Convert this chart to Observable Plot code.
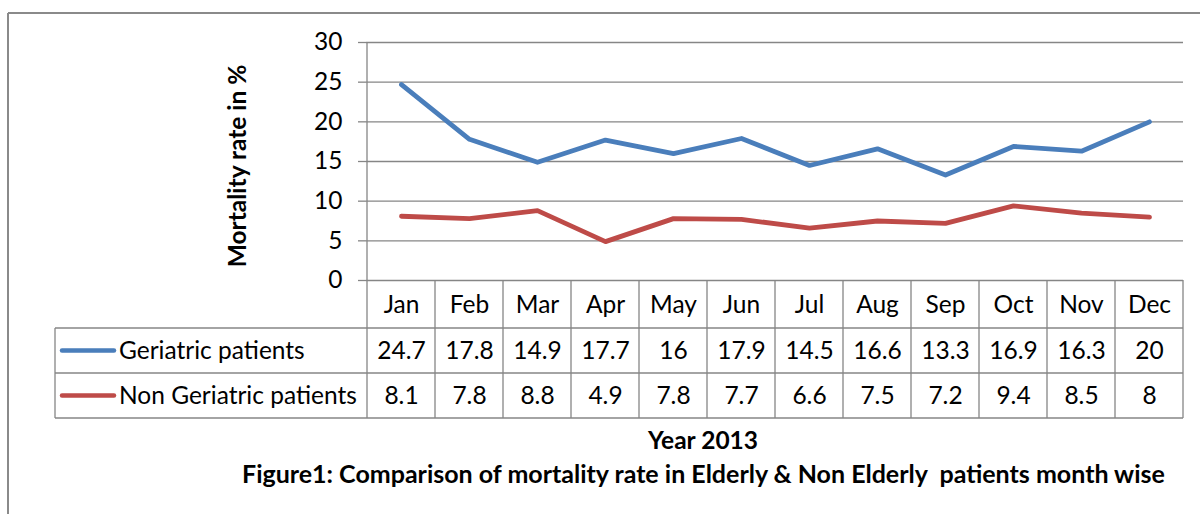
<!DOCTYPE html>
<html><head><meta charset="utf-8">
<script src="https://cdn.jsdelivr.net/npm/d3@7"></script>
<script src="https://cdn.jsdelivr.net/npm/@observablehq/plot@0.6"></script>
<style>
body{margin:0;background:#fff;}
svg{font-family:Lato, "Open Sans", sans-serif;}
</style></head><body>
<div id="chart"></div>
<script>
const months = ["Jan","Feb","Mar","Apr","May","Jun","Jul","Aug","Sep","Oct","Nov","Dec"];
const geriatric = [24.7,17.8,14.9,17.7,16,17.9,14.5,16.6,13.3,16.9,16.3,20];
const nonGeriatric = [8.1,7.8,8.8,4.9,7.8,7.7,6.6,7.5,7.2,9.4,8.5,8];
const seriesNames = ["Geriatric patients","Non Geriatric patients"];
const seriesColors = ["#4A7EBB","#BE4B48"];
const yTicks = [0,5,10,15,20,25,30];
const yLabel = "Mortality rate in %";
const xLabel = "Year 2013";
const caption = "Figure1: Comparison of mortality rate in Elderly & Non Elderly  patients month wise";

const seriesValues = [geriatric, nonGeriatric];
const rows = [];
seriesNames.forEach((s,i)=>months.forEach((m,j)=>rows.push({series:s, month:m, value:seriesValues[i][j]})));

const FS = 24.5;
const GRID = "#868686";
const headerH = 48, rowH = 45;

const plot = Plot.plot({
  width:1200, height:514,
  marginLeft:366, marginRight:17, marginTop:42, marginBottom:234,
  style:{fontFamily:"Lato, 'Open Sans', sans-serif", fontSize:FS+"px", background:"white", color:"#000", overflow:"visible"},
  x:{type:"point", domain:months, padding:0.5, axis:null},
  y:{domain:[0,30], axis:null},
  color:{domain:seriesNames, range:seriesColors},
  marks:[
    Plot.gridY(yTicks, {stroke:GRID, strokeOpacity:1, strokeWidth:1.3}),
    Plot.axisY(yTicks, {tickSize:8, tickPadding:16, stroke:GRID, strokeWidth:1.3, fill:"#000", fontSize:FS, label:null}),
    Plot.line(rows, {x:"month", y:"value", z:"series", stroke:"series", strokeWidth:4.8, strokeLinecap:"round", strokeLinejoin:"round"}),
    Plot.text(months, {x:d=>d, frameAnchor:"bottom", lineAnchor:"middle", dy:headerH/2+1, text:d=>d, fontSize:FS, fill:"#000"}),
    Plot.text(rows.filter(r=>r.series===seriesNames[0]), {x:"month", frameAnchor:"bottom", lineAnchor:"middle", dy:headerH+rowH/2, text:d=>String(d.value), fontSize:FS, fill:"#000"}),
    Plot.text(rows.filter(r=>r.series===seriesNames[1]), {x:"month", frameAnchor:"bottom", lineAnchor:"middle", dy:headerH+rowH*1.5, text:d=>String(d.value), fontSize:FS, fill:"#000"})
  ]
});

const svg = d3.select(plot);
const xs = plot.scale("x"), ys = plot.scale("y");
const step = (xs.apply(months[1]) - xs.apply(months[0]));
const left = xs.apply(months[0]) - step/2, right = xs.apply(months[months.length-1]) + step/2;
const y0 = ys.apply(0), yTop = ys.apply(30);
const tableLeft = 55;
const g = svg.append("g").attr("stroke", GRID).attr("stroke-width", 1.3);
g.append("line").attr("x1",left).attr("x2",left).attr("y1",yTop).attr("y2",y0);
const rowYs = [y0+headerH, y0+headerH+rowH, y0+headerH+2*rowH];
rowYs.forEach(y=>g.append("line").attr("x1",tableLeft).attr("x2",right).attr("y1",y).attr("y2",y));
months.forEach(m=>{const x = xs.apply(m)-step/2; g.append("line").attr("x1",x).attr("x2",x).attr("y1",y0).attr("y2",rowYs[2]);});
g.append("line").attr("x1",right).attr("x2",right).attr("y1",y0).attr("y2",rowYs[2]);
g.append("line").attr("x1",tableLeft).attr("x2",tableLeft).attr("y1",rowYs[0]).attr("y2",rowYs[2]);
seriesNames.forEach((s,i)=>{
  const cy = rowYs[0] + rowH*(i+0.5);
  svg.append("line").attr("x1",62).attr("x2",114).attr("y1",cy).attr("y2",cy)
    .attr("stroke",seriesColors[i]).attr("stroke-width",4.5).attr("stroke-linecap","round");
  svg.append("text").attr("x",119).attr("y",cy).attr("dy","0.35em").attr("text-anchor","start").attr("font-size",FS).attr("fill","#000").text(s);
});
svg.append("line").attr("x1",8).attr("x2",8).attr("y1",13).attr("y2",514).attr("stroke","#8a8a8a").attr("stroke-width",2);
svg.append("line").attr("x1",8).attr("x2",1200).attr("y1",13).attr("y2",13).attr("stroke","#8a8a8a").attr("stroke-width",2);
svg.append("text").attr("transform",`translate(237,${(yTop+y0)/2+5}) rotate(-90)`).attr("text-anchor","middle").attr("dy","0.35em")
  .attr("font-weight","bold").attr("font-size",FS).attr("fill","#000").text(yLabel);
svg.append("text").attr("x",703).attr("y",440).attr("dy","0.35em").attr("text-anchor","middle").attr("font-weight","bold").attr("font-size",FS).attr("fill","#000").text(xLabel);
svg.append("text").attr("x",242).attr("y",474).attr("dy","0.35em").attr("text-anchor","start").attr("font-weight","bold").attr("font-size",FS+0.5).attr("fill","#000").style("white-space","pre").text(caption);
document.getElementById("chart").appendChild(plot);
</script></body></html>
